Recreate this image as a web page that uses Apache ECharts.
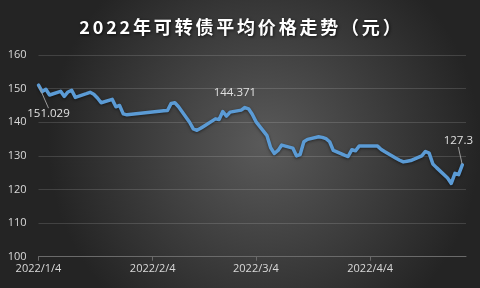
<!DOCTYPE html>
<html>
<head>
<meta charset="utf-8">
<script src="https://cdn.jsdelivr.net/npm/echarts@6/dist/echarts.min.js"></script>
<style>
html,body{margin:0;padding:0;background:#2a2a2a;}
#chart{width:480px;height:288px;}
</style>
</head>
<body>
<div id="chart"></div>
<script>
// ---- data ----
var titleText = '2022年可转债平均价格走势（元）';
var dates = [
  '2022-01-04','2022-01-05','2022-01-06','2022-01-07',
  '2022-01-10','2022-01-11','2022-01-12','2022-01-13','2022-01-14',
  '2022-01-17','2022-01-18','2022-01-19','2022-01-20','2022-01-21',
  '2022-01-24','2022-01-25','2022-01-26','2022-01-27','2022-01-28',
  '2022-02-07','2022-02-08','2022-02-09','2022-02-10','2022-02-11',
  '2022-02-14','2022-02-15','2022-02-16','2022-02-17','2022-02-18',
  '2022-02-21','2022-02-22','2022-02-23','2022-02-24','2022-02-25',
  '2022-02-28','2022-03-01','2022-03-02','2022-03-03','2022-03-04',
  '2022-03-07','2022-03-08','2022-03-09','2022-03-10','2022-03-11',
  '2022-03-14','2022-03-15','2022-03-16','2022-03-17','2022-03-18',
  '2022-03-21','2022-03-22','2022-03-23','2022-03-24','2022-03-25',
  '2022-03-28','2022-03-29','2022-03-30','2022-03-31','2022-04-01',
  '2022-04-06','2022-04-07','2022-04-08',
  '2022-04-11','2022-04-12','2022-04-13','2022-04-14','2022-04-15',
  '2022-04-18','2022-04-19','2022-04-20','2022-04-21','2022-04-22',
  '2022-04-25','2022-04-26','2022-04-27','2022-04-28','2022-04-29'
];
var prices = [
  151.029,149.1,149.8,148.1,
  149.2,147.7,149.0,149.5,147.4,
  148.5,148.9,148.3,147.2,145.8,
  146.8,144.6,145.0,142.5,142.2,
  143.4,143.5,145.6,145.8,144.6,
  140.0,138.0,137.6,138.2,138.9,
  141.0,140.8,143.2,141.8,143.0,
  143.6,144.371,144.0,142.4,140.2,
  136.0,132.4,130.7,131.6,133.2,
  132.3,130.0,130.4,134.2,134.9,
  135.7,135.5,135.1,134.2,131.6,
  130.2,129.8,131.8,131.5,132.9,
  132.9,131.9,131.2,
  129.3,128.7,128.2,128.4,128.6,
  130.0,131.3,130.8,127.6,126.5,
  123.4,121.8,124.8,124.4,127.3
];
var xTickLabels = ['2022/1/4','2022/2/4','2022/3/4','2022/4/4'];
var xAxisEnd = '2022/4/30';
var yMin = 100, yMax = 160, yStep = 10;

// ---- helpers ----
function toTime(s){
  var p = s.split(/[-\/]/).map(Number);
  return new Date(p[0], p[1]-1, p[2]).getTime();
}
function fmtDate(v){
  var d = new Date(v);
  return d.getFullYear() + '/' + (d.getMonth()+1) + '/' + d.getDate();
}
var tickValues = xTickLabels.map(toTime);

var peakIdx = prices.indexOf(144.371);
var lastIdx = prices.length - 1;

// title with letter spacing via rich text segments
var titleRich = Array.from(titleText).map(function(ch){ return '{c|' + ch + '}'; }).join('');

var labelStyle = {show:true, color:'#e0e0e0', opacity:1, fontSize:11.5, fontFamily:'"Open Sans","Liberation Sans",sans-serif', formatter:function(p){return p.value[1];}};

var seriesData = dates.map(function(d,i){
  var item = {value:[toTime(d), prices[i]]};
  var pos = null;
  if (i === 0) pos = 'bottom';
  if (i === peakIdx || i === lastIdx) pos = 'top';
  if (pos) {
    item.symbol = 'circle';
    item.symbolSize = 2;
    item.itemStyle = {color:'rgba(0,0,0,0)', borderWidth:0};
    item.label = Object.assign({}, labelStyle, {position:pos});
    if (i === peakIdx) item.labelLine = {show:false};
  }
  return item;
});

var chart = echarts.init(document.getElementById('chart'), null, {renderer:'canvas'});
chart.setOption({
  animation:false,
  backgroundColor:{
    type:'radial', x:0.55, y:0.5, r:0.75,
    colorStops:[{offset:0,color:'#5a5a5a'},{offset:1,color:'#242424'}]
  },
  title:{
    text:titleRich, left:'center', top:13,
    textStyle:{
      color:'#ffffff', fontSize:18, fontWeight:'bold',
      fontFamily:'"Noto Sans CJK SC",sans-serif',
      rich:{
        c:{
          color:'#ffffff', fontSize:18, fontWeight:'bold',
          fontFamily:'"Noto Sans CJK SC",sans-serif',
          padding:[0,1.4,0,1.4],
          textShadowColor:'rgba(0,0,0,0.7)', textShadowBlur:3, textShadowOffsetX:1, textShadowOffsetY:1
        }
      }
    }
  },
  grid:{left:38.5, right:14, top:55, bottom:31.3, containLabel:false},
  xAxis:{
    type:'value',
    min:tickValues[0], max:toTime(xAxisEnd),
    axisLine:{show:true, lineStyle:{color:'#6a6a6a', width:1}},
    axisTick:{show:true, customValues:tickValues, length:4, lineStyle:{color:'#6a6a6a'}},
    axisLabel:{
      customValues:tickValues, color:'#d9d9d9', fontSize:11, margin:7,
      fontFamily:'"Open Sans","Liberation Sans",sans-serif',
      formatter:function(v){ return fmtDate(v); }
    },
    splitLine:{show:false}
  },
  yAxis:{
    type:'value', min:yMin, max:yMax, interval:yStep,
    axisLine:{show:false}, axisTick:{show:false},
    axisLabel:{color:'#d9d9d9', fontSize:11, margin:12, fontFamily:'"Open Sans","Liberation Sans",sans-serif'},
    splitLine:{lineStyle:{color:'rgba(255,255,255,0.14)', width:1}}
  },
  series:[{
    type:'line',
    data:seriesData,
    showSymbol:true,
    showAllSymbol:true,
    symbol:'none',
    lineStyle:{color:'#5b9bd5', width:3.5, cap:'round', join:'round',
      shadowColor:'rgba(0,0,0,0.5)', shadowBlur:3, shadowOffsetY:1},
    itemStyle:{color:'#5b9bd5'},
    emphasis:{disabled:true},
    labelLine:{show:true, lineStyle:{color:'#9a9a9a', width:1}},
    labelLayout:function(p){
      if (p.dataIndex === 0) return {dx:10, dy:17};
      if (p.dataIndex === peakIdx) return {dx:-10, dy:-3};
      if (p.dataIndex === lastIdx) return {dx:-4, dy:-12};
      return {};
    }
  }]
});
</script>
</body>
</html>
